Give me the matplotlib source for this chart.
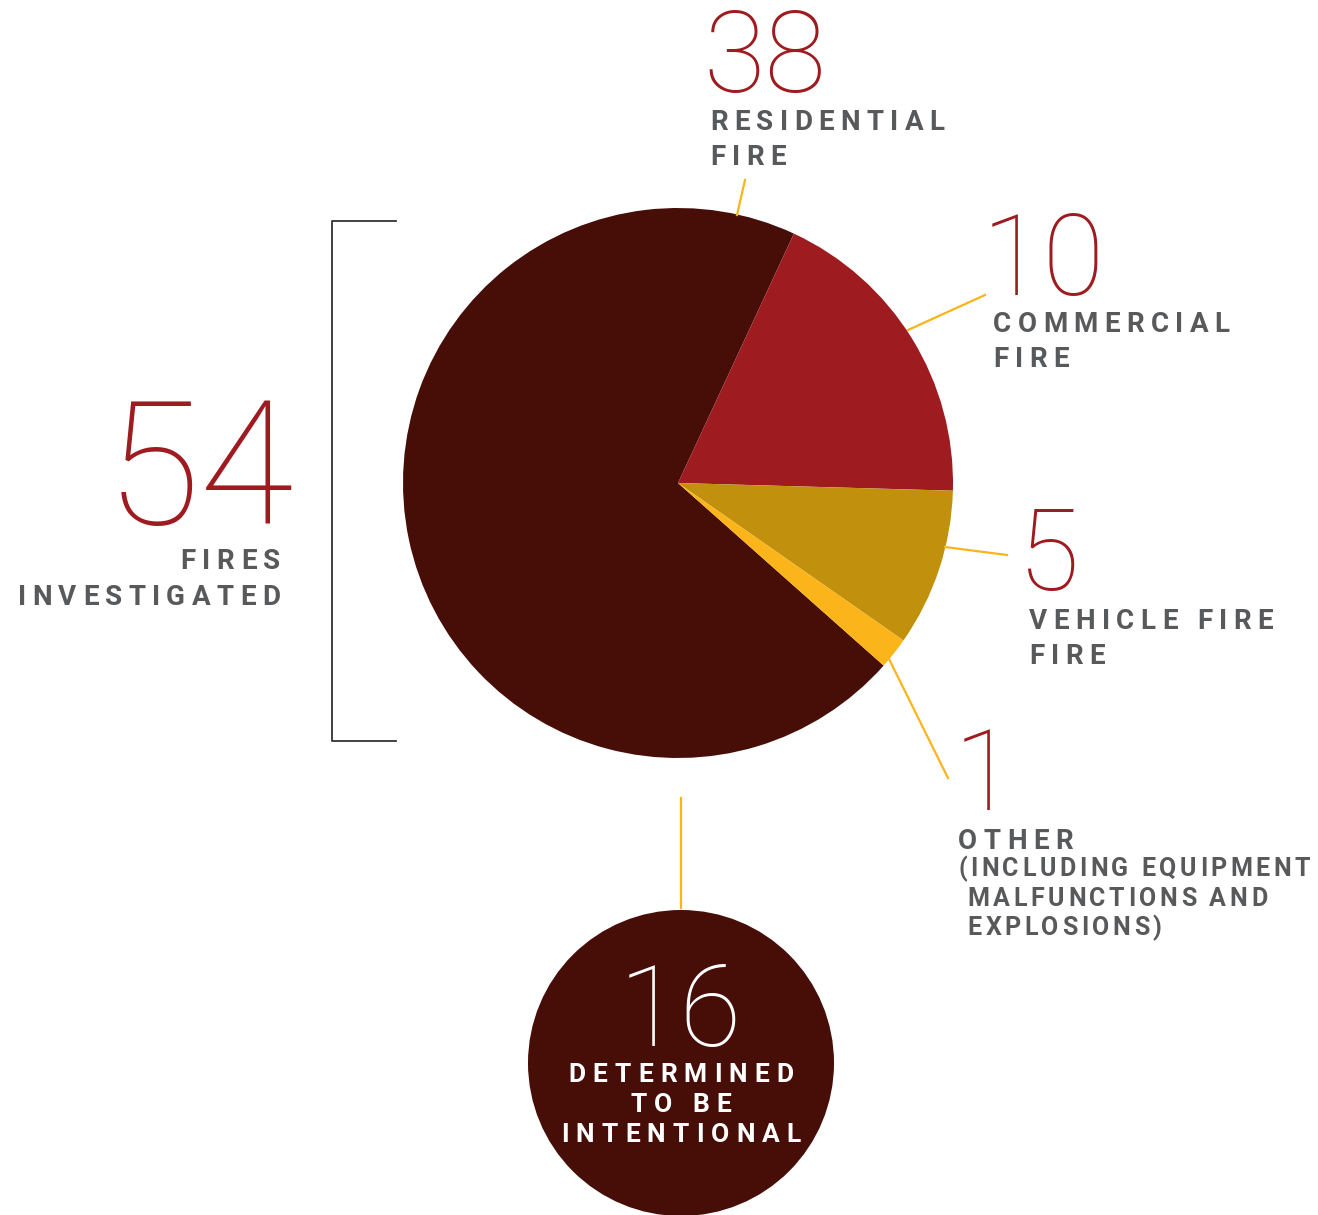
import matplotlib
matplotlib.use('Agg')
import matplotlib.pyplot as plt
from matplotlib.patches import Circle
from matplotlib.font_manager import FontProperties

W, H = 1318, 1215

# data
slice_values = [38, 10, 5, 1]
slice_labels = ['RESIDENTIAL\nFIRE', 'COMMERCIAL\nFIRE', 'VEHICLE FIRE\nFIRE', 'OTHER']
other_note = '(INCLUDING EQUIPMENT\n MALFUNCTIONS AND\n EXPLOSIONS)'
total_value = 54
total_label = 'FIRES\nINVESTIGATED'
intentional_value = 16
intentional_label = 'DETERMINED\nTO BE\nINTENTIONAL'

slice_colors = ['#470D07', '#9E1B20', '#C1900D', '#FBB41A']
red = '#9E1B20'
grey = '#58595B'
yellow = '#FBB41A'
FONT = 'Roboto'

fig = plt.figure(figsize=(W / 100, H / 100), dpi=100)
ax = fig.add_axes([0, 0, 1, 1])


def Y(y):
    # picture rows run downwards, axes upwards
    return H - y


cx, cy, r = 678, 483, 275
ax.pie(slice_values, colors=slice_colors, startangle=318.4, counterclock=False,
       center=(cx, Y(cy)), radius=r, wedgeprops=dict(linewidth=0))

ax.set_xlim(0, W)
ax.set_ylim(0, H)
ax.set_aspect('auto')
ax.axis('off')

renderer = fig.canvas.get_renderer()


def text_w(s, fp):
    w, h, d = renderer.get_text_width_height_descent(s, fp, ismath=False)
    return w


def tracked(x, y, s, size, color, ha='left', weight='bold', track=0.23):
    # matplotlib has no letter spacing, so place the letters one by one
    fp = FontProperties(family=FONT, size=size, weight=weight)
    gap = track * size * 100 / 72
    ref = text_w('X', fp)
    offs = [0.0] + [text_w(s[:i] + 'X', fp) - ref for i in range(1, len(s))]
    total = text_w(s, fp) + gap * (len(s) - 1)
    if ha == 'right':
        x0 = x - total
    elif ha == 'center':
        x0 = x - total / 2
    else:
        x0 = x
    for i, ch in enumerate(s):
        if ch == ' ':
            continue
        ax.text(x0 + offs[i] + gap * i, Y(y), ch, fontproperties=fp,
                color=color, ha='left', va='baseline')


def block(x, y, s, size, color, ha='left', step=35, **kw):
    for k, line in enumerate(s.split('\n')):
        tracked(x, y + k * step, line, size, color, ha=ha, **kw)


def number(x, y, v, size, color, ha='left'):
    ax.text(x, Y(y), str(v), family=FONT, weight=100, size=size,
            color=color, ha=ha, va='baseline')


# residential
number(703, 92, slice_values[0], 81, red)
block(710, 130, slice_labels[0], 20, grey)
ax.plot([737, 745], [Y(215), Y(180)], color=yellow, lw=1.6)

# commercial
number(982, 295, slice_values[1], 81, red)
block(993, 332, slice_labels[1], 20, grey)
ax.plot([908, 985], [Y(330), Y(295)], color=yellow, lw=1.6)

# vehicle
number(1018, 590, slice_values[2], 81, red)
block(1029, 629, slice_labels[2], 20, grey)
ax.plot([945, 1007], [Y(547), Y(555)], color=yellow, lw=1.6)

# other
number(1015, 810, slice_values[3], 81, red, ha='right')
block(958, 849, slice_labels[3], 20, grey)
block(958, 876, other_note, 18, grey, step=29.5, track=0.14)
ax.plot([888, 948], [Y(657), Y(778)], color=yellow, lw=1.6)

# total with bracket
number(294, 524, total_value, 124, red, ha='right')
block(280, 569, total_label, 20, grey, ha='right', step=36)
ax.plot([396, 332, 332, 396], [Y(221), Y(221), Y(741), Y(741)],
        color='#333333', lw=1.3)

# intentional circle
ax.plot([681, 681], [Y(798), Y(908)], color=yellow, lw=1.6)
ax.add_patch(Circle((681, Y(1063)), 153, color=slice_colors[0], lw=0))
number(680, 1046, intentional_value, 81, 'white', ha='center')
block(681, 1082, intentional_label, 19, 'white', ha='center', step=30,
      track=0.27)

fig.savefig('out.png', dpi=100)
